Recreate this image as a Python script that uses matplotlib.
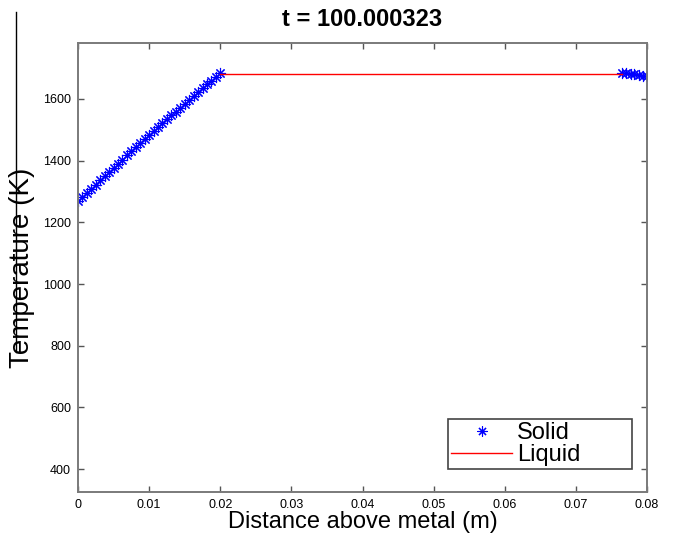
import matplotlib
matplotlib.use("Agg")
import matplotlib.pyplot as plt
from matplotlib.lines import Line2D

plt.rcParams['font.family'] = ['Liberation Sans', 'DejaVu Sans']

# solid phase temperature
solid_x = [0.0, 0.000625, 0.00125, 0.001875, 0.0025, 0.003125, 0.00375, 0.004375,
           0.005, 0.005625, 0.00625, 0.006875, 0.0075, 0.008125, 0.00875, 0.009375,
           0.01, 0.010625, 0.01125, 0.011875, 0.0125, 0.013125, 0.01375, 0.014375,
           0.015, 0.015625, 0.01625, 0.016875, 0.0175, 0.018125, 0.01875, 0.019375, 0.02,
           0.0765, 0.0771, 0.0777, 0.0782, 0.0788, 0.0794, 0.0800]
solid_T = [1268, 1282, 1295, 1309, 1322, 1336, 1349, 1363,
           1376, 1390, 1403, 1417, 1430, 1444, 1457, 1471,
           1484, 1497, 1509, 1522, 1534, 1547, 1559, 1572,
           1584, 1597, 1609, 1622, 1634, 1647, 1659, 1672, 1684,
           1685, 1684, 1682, 1680, 1678, 1676, 1675]

liquid_x = [0.02, 0.0765]
liquid_T = [1681, 1681]

x_ticks = [0, 0.01, 0.02, 0.03, 0.04, 0.05, 0.06, 0.07, 0.08]
x_labels = ['0', '0.01', '0.02', '0.03', '0.04', '0.05', '0.06', '0.07', '0.08']
y_ticks = [400, 600, 800, 1000, 1200, 1400, 1600]

fig = plt.figure(figsize=(6.75, 5.33), dpi=100)
ax = fig.add_axes([0.1156, 0.0769, 0.843, 0.8424])

ax.plot(solid_x, solid_T, linestyle='none', marker=(8, 2, 0), color='blue',
        markersize=8, markeredgewidth=0.8, label='Solid')
ax.plot(liquid_x, liquid_T, color='red', linewidth=1, label='Liquid')

ax.set_xlim(0, 0.08)
ax.set_ylim(325.5, 1781.5)
ax.set_xticks(x_ticks)
ax.set_xticklabels(x_labels)
ax.set_yticks(y_ticks)

for s in ax.spines.values():
    s.set_color('#7a7a7a')
    s.set_linewidth(1.4)
ax.tick_params(direction='in', length=4, width=1, color='#555555',
               labelsize=9, top=True, right=True, pad=5)

ax.set_title('t = 100.000323', fontsize=17, fontweight='bold', pad=12)
ax.set_xlabel('Distance above metal (m)', fontsize=17, labelpad=0)
ax.set_ylabel('Temperature (K)', fontsize=20, labelpad=6)

# legend box spans x 448..632, bottom at 469 px in the reference
x0 = (448 - 78) / 569
w = (632 - 448) / 569
y0 = (492 - 469) / 449
leg = ax.legend(loc='lower left', bbox_to_anchor=(x0, y0, w, 0.1), mode='expand',
                fontsize=17, frameon=True, fancybox=False, framealpha=1,
                handlelength=2.6, handletextpad=0.2, labelspacing=0.0,
                borderpad=0.12, borderaxespad=0, markerscale=0.9)
leg.get_frame().set_edgecolor('#444444')
leg.get_frame().set_linewidth(1.2)

# stray vertical line at the left edge of the picture
fig.add_artist(Line2D([16 / 675, 16 / 675], [1 - 12 / 533, 1 - 352 / 533],
                      color='black', linewidth=1))

fig.savefig('out.png', dpi=100)
